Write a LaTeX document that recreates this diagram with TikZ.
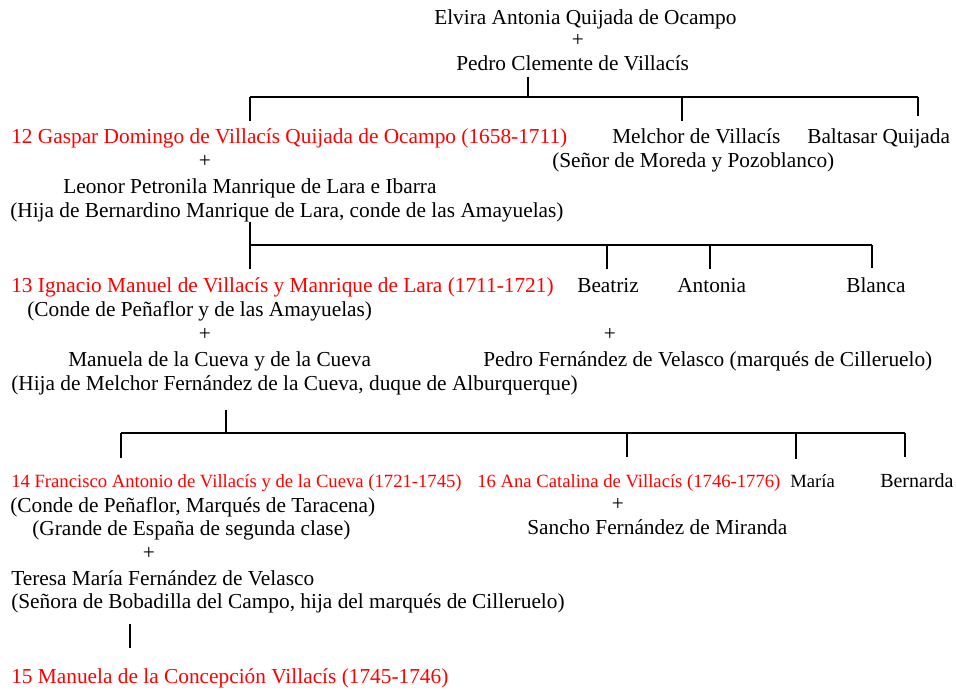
\documentclass[tikz,border=0pt]{standalone}
\usepackage{fontspec}
\setmainfont{Liberation Serif}
\tikzset{
	person/.style={anchor=base west, inner sep=0pt, font=\fontsize{16}{19}\selectfont},
	small/.style={font=\fontsize{14}{17}\selectfont},
	heir/.style={text=red},
	tree/.style={line width=1.5pt}
}

\begin{document}
\begin{tikzpicture}[x=0.75pt,y=-0.75pt]
	\useasboundingbox (0,0) rectangle (956,691);
	
	% parents
	\node[person] (elvira) at (434,25) {Elvira Antonia Quijada de Ocampo};
	\node[person,anchor=base] (plus0) at (578,47) {+};
	\node[person] (pedro) at (456,71) {Pedro Clemente de Villacís};
	
	% generation 12
	\node[person,heir] (gaspar) at (11,144) {12 Gaspar Domingo de Villacís Quijada de Ocampo (1658-1711)};
	\node[person,anchor=base] (plus1) at (205,168) {+};
	\node[person] (leonor) at (63,194) {Leonor Petronila Manrique de Lara e Ibarra};
	\node[person] (leonorx) at (10,218) {(Hija de Bernardino Manrique de Lara, conde de las Amayuelas)};
	\node[person] (melchor) at (612,144) {Melchor de Villacís};
	\node[person] (melchorx) at (552,168) {(Señor de Moreda y Pozoblanco)};
	\node[person] (baltasar) at (807,144) {Baltasar Quijada};
	
	% generation 13
	\node[person,heir] (ignacio) at (11,293) {13 Ignacio Manuel de Villacís y Manrique de Lara (1711-1721)};
	\node[person] (ignaciox) at (27,317) {(Conde de Peñaflor y de las Amayuelas)};
	\node[person,anchor=base] (plus2) at (205,340) {+};
	\node[person] (manuela) at (68,367) {Manuela de la Cueva y de la Cueva};
	\node[person] (manuelax) at (11,390) {(Hija de Melchor Fernández de la Cueva, duque de Alburquerque)};
	\node[person] (beatriz) at (577,293) {Beatriz};
	\node[person] (antonia) at (677,293) {Antonia};
	\node[person] (blanca) at (846,293) {Blanca};
	\node[person,anchor=base] (plus3) at (610,340) {+};
	\node[person] (pedrofv) at (483,367) {Pedro Fernández de Velasco (marqués de Cilleruelo)};
	
	% generation 14
	\node[person,small,heir] (francisco) at (11,487) {14 Francisco Antonio de Villacís y de la Cueva (1721-1745)};
	\node[person] (franciscox) at (10,512) {(Conde de Peñaflor, Marqués de Taracena)};
	\node[person] (franciscoy) at (32,535) {(Grande de España de segunda clase)};
	\node[person,anchor=base] (plus4) at (149,559) {+};
	\node[person] (teresa) at (11,585) {Teresa María Fernández de Velasco};
	\node[person] (teresax) at (11,608) {(Señora de Bobadilla del Campo, hija del marqués de Cilleruelo)};
	\node[person,small,heir] (ana) at (477,487) {16 Ana Catalina de Villacís (1746-1776)};
	\node[person,anchor=base] (plus5) at (618,510) {+};
	\node[person] (sancho) at (527,534) {Sancho Fernández de Miranda};
	\node[person,small] (maria) at (790,487) {María};
	\node[person,font=\fontsize{15}{18}\selectfont] (bernarda) at (880,487) {Bernarda};
	
	% generation 15
	\node[person,heir] (manuelac) at (11,683) {15 Manuela de la Concepción Villacís (1745-1746)};
	
	% brackets
	\coordinate (s0) at (528,77);
	\coordinate (j0) at (528,97);
	\coordinate (g1) at (250,121);
	\coordinate (g2) at (682,121);
	\coordinate (g3) at (918,116);
	\draw[tree] (s0) -- (j0);
	\draw[tree] (g1 |- j0) -- (g3 |- j0);
	\foreach \d in {g1,g2,g3}
		\draw[tree] (\d) -- (\d |- j0);
	
	\coordinate (s1) at (250,222);
	\coordinate (j1) at (250,245);
	\coordinate (h1) at (250,269);
	\coordinate (h2) at (607,269);
	\coordinate (h3) at (710,269);
	\coordinate (h4) at (872,268);
	\draw[tree] (s1) -- (j1);
	\draw[tree] (h1 |- j1) -- (h4 |- j1);
	\foreach \d in {h1,h2,h3,h4}
		\draw[tree] (\d) -- (\d |- j1);
	
	\coordinate (s2) at (226,410);
	\coordinate (j2) at (226,433);
	\coordinate (k1) at (121,458);
	\coordinate (k2) at (627,457);
	\coordinate (k3) at (796,459);
	\coordinate (k4) at (905,457);
	\draw[tree] (s2) -- (j2);
	\draw[tree] (k1 |- j2) -- (k4 |- j2);
	\foreach \d in {k1,k2,k3,k4}
		\draw[tree] (\d) -- (\d |- j2);
	
	\coordinate (s3) at (130,624);
	\coordinate (m1) at (130,648);
	\draw[tree] (s3) -- (m1);
\end{tikzpicture}
\end{document}
